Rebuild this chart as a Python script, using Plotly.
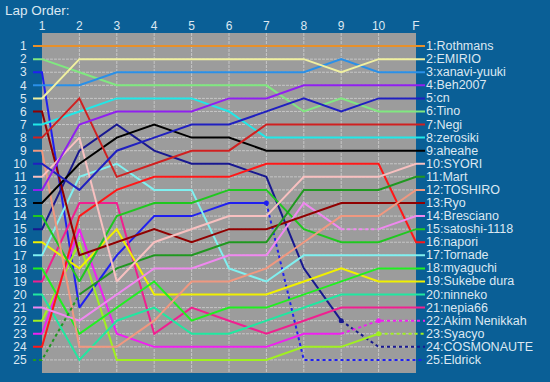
import plotly.graph_objects as go

# ---------------- data ----------------
laps = ["1", "2", "3", "4", "5", "6", "7", "8", "9", "10", "F"]
drivers = ["Rothmans", "EMIRIO", "xanavi-yuuki", "Beh2007", "cn", "Tino", "Negi",
           "zerosiki", "aheahe", "SYORI", "Mart", "TOSHIRO", "Ryo", "Bresciano",
           "satoshi-1118", "napori", "Tornade", "myaguchi", "Sukebe dura", "ninneko",
           "nepia66", "Akim Nenikkah", "Syacyo", "COSMONAUTE", "Eldrick"]
colors = ["#e8902a", "#f0f0a0", "#2a90e8", "#9020f0", "#2020c0", "#80e880", "#d02020",
          "#20e8e8", "#000000", "#f8c0c0", "#209820", "#f09880", "#900000", "#f088f0",
          "#20c820", "#ff1818", "#80f0f0", "#20f020", "#f0f000", "#20e8a0",
          "#f02090", "#f020f0", "#a0f020", "#181890", "#2020f0"]

rothmans = [1, 1, 1, 1, 1, 1, 1, 1, 1, 1, 1]
emirio = [5, 2, 2, 2, 2, 2, 2, 2, 3, 2, 2]
xanavi = [4, 4, 3, 3, 3, 3, 3, 3, 2, 3, 3]
beh2007 = [12, 7, 6, 6, 6, 5, 5, 4, 4, 4, 4]
cn = [10, 12, 9, 8, 7, 7, 6, 5, 6, 5, 5]
tino = [2, 3, 4, 4, 4, 4, 4, 6, 5, 6, 6]
negi = [8, 5, 11, 10, 9, 9, 7, 7, 7, 7, 7]
zerosiki = [7, 6, 5, 5, 5, 6, 8, 8, 8, 8, 8]
aheahe = [13, 10, 8, 7, 8, 8, 9, 9, 9, 9, 9]
syori = [11, 8, 19, 16, 15, 14, 14, 11, 11, 11, 10]
mart = [25, 20, 18, 17, 17, 16, 16, 12, 12, 12, 11]
toshiro = [9, 24, 24, 22, 19, 19, 18, 16, 14, 14, 12]
ryo = [6, 17, 16, 15, 16, 15, 15, 14, 13, 13, 13]
bresciano = [21, 22, 20, 18, 18, 17, 17, 13, 15, 15, 14]
satoshi = [14, 19, 14, 13, 13, 12, 12, 15, 16, 16, 15]
napori = [24, 14, 12, 11, 11, 11, 10, 10, 10, 10, 16]
tornade = [17, 11, 10, 12, 12, 18, 19, 17, 17, 17, 17]
myaguchi = [18, 23, 21, 19, 22, 21, 21, 20, 19, 18, 18]
sukebe = [16, 18, 15, 20, 20, 20, 20, 19, 18, 19, 19]
ninneko = [20, 25, 22, 21, 23, 23, 22, 21, 20, 20, 20]
nepia66 = [19, 13, 13, 23, 21, 22, 23, 22, 21, 21, 21]
akim = [23, 15, 23, 24, 24, 24, 24, 23, 23, 22, 22]
syacyo = [22, 16, 25, 25, 25, 25, 25, 24, 24, 23, 23]
cosmonaute = [15, 9, 7, 9, 10, 10, 11, 18, 22, 24, 24]
eldrick = [3, 21, 17, 14, 14, 13, 13, 25, 25, 25, 25]

series = [rothmans, emirio, xanavi, beh2007, cn, tino, negi, zerosiki, aheahe, syori,
          mart, toshiro, ryo, bresciano, satoshi, napori, tornade, myaguchi, sukebe,
          ninneko, nepia66, akim, syacyo, cosmonaute, eldrick]

# segment styles on the extended index (0 = left stub, 1..11 = laps, 12 = right stub)
segments = {
    "Mart": [(0, 2, "dot"), (2, 12, "solid")],
    "Eldrick": [(0, 7, "solid"), (7, 12, "dot")],
    "COSMONAUTE": [(0, 9, "solid"), (9, 12, "dot")],
    "Akim Nenikkah": [(0, 9, "solid"), (9, 12, "dot")],
    "Syacyo": [(0, 10, "solid"), (10, 12, "dot")],
    "Bresciano": [(0, 9, "solid"), (9, 10, "dot"), (10, 12, "solid")],
}
markers = {"Eldrick": 7, "COSMONAUTE": 9, "Akim Nenikkah": 10, "Syacyo": 10}

# ---------------- style ----------------
BG = "#0a5f96"
PLOT_GRAY = "#9c9c9c"
GRID = "#c6c6c6"
TXT = "#dce8f2"
STUB = 0.24
FONT = "Liberation Sans, Arial, sans-serif"

n_laps = len(laps)
n_pos = len(drivers)
lap_x = list(range(1, n_laps + 1))
ext_x = [1 - STUB] + lap_x + [n_laps + STUB]

fig = go.Figure()

# draw from last to first so leaders are on top
for name, col, pos in reversed(list(zip(drivers, colors, series))):
    ext_y = [pos[0]] + list(pos) + [pos[-1]]
    segs = segments.get(name, [(0, 12, "solid")])
    for a, b, dash in segs:
        fig.add_trace(go.Scatter(
            x=ext_x[a:b + 1], y=ext_y[a:b + 1], mode="lines",
            line=dict(color=col, width=2, dash=dash),
            hoverinfo="skip", showlegend=False))
    if name in markers:
        i = markers[name]
        fig.add_trace(go.Scatter(
            x=[ext_x[i]], y=[ext_y[i]], mode="markers",
            marker=dict(color=col, size=5), hoverinfo="skip", showlegend=False))

shapes = [dict(type="rect", xref="x", yref="y", x0=1, x1=n_laps, y0=0, y1=n_pos + 1,
               fillcolor=PLOT_GRAY, line=dict(width=0), layer="below")]
for p in range(1, n_pos + 1):
    shapes.append(dict(type="line", xref="x", yref="y", x0=1, x1=n_laps, y0=p, y1=p,
                       line=dict(color=GRID, width=1, dash="3px,1px"), layer="below"))
for lx in lap_x[1:-1]:
    shapes.append(dict(type="line", xref="x", yref="y", x0=lx, x1=lx, y0=0, y1=n_pos + 1,
                       line=dict(color=GRID, width=1, dash="3px,1px"), layer="below"))

annotations = []
for i, name in enumerate(drivers):
    annotations.append(dict(x=n_laps + STUB, y=i + 1, xref="x", yref="y",
                            text=f"{i + 1}:{name}", showarrow=False,
                            xanchor="left", yanchor="middle", xshift=-1,
                            font=dict(color=TXT, size=12.5, family=FONT)))

fig.update_layout(
    width=550, height=382,
    margin=dict(l=33, r=125, t=33, b=9, autoexpand=False),
    paper_bgcolor=BG, plot_bgcolor=BG,
    shapes=shapes, annotations=annotations,
    title=dict(text="Lap Order:", x=5 / 550, xref="container", xanchor="left",
               y=1 - 10 / 382, yref="container", yanchor="middle", automargin=False,
               font=dict(color=TXT, size=13.5, family=FONT)),
    showlegend=False,
)
fig.update_xaxes(range=[1 - STUB, n_laps + STUB], side="top", tickvals=lap_x, ticktext=laps,
                 showgrid=False, zeroline=False, showline=False, automargin=False,
                 tickfont=dict(color=TXT, size=12, family=FONT))
fig.update_yaxes(range=[n_pos + 1, 0], tickvals=list(range(1, n_pos + 1)),
                 showgrid=False, zeroline=False, showline=False, automargin=False,
                 ticks="outside", ticklen=3, tickcolor="rgba(0,0,0,0)",
                 tickfont=dict(color=TXT, size=12, family=FONT))

fig.write_html("out.html", config={"displayModeBar": False},
               post_script="document.body.style.margin='0px';document.body.style.padding='0px';")
